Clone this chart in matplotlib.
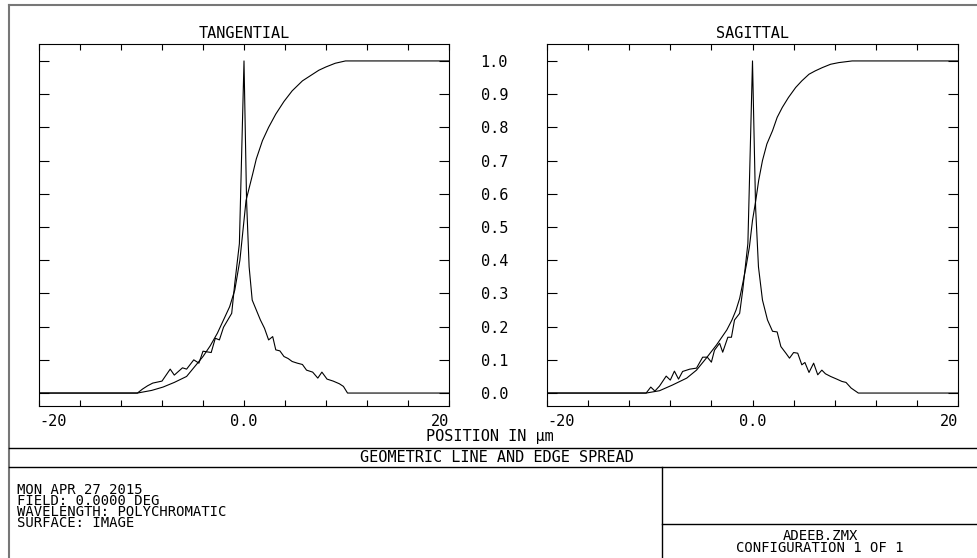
import numpy as np
import matplotlib
matplotlib.use("Agg")
import matplotlib.pyplot as plt
from matplotlib.lines import Line2D

plt.rcParams['font.family'] = ['DejaVu Sans Mono', 'DejaVu Sans']

W, H = 977, 558

# tangential line spread (peak-normalised) and edge spread, position in micrometres
tan_lsf_x = [-20, -10.4, -9.9, -9.4, -8.9, -8.0, -7.2, -6.8, -6.0, -5.6, -4.9, -4.4, -4.0,
             -3.2, -2.8, -2.4, -2.0, -1.2, -0.9, -0.45, 0.0, 0.25, 0.5, 0.8, 1.2, 1.6, 2.0,
             2.4, 2.8, 3.1, 3.5, 3.9, 4.3, 4.7, 5.2, 5.7, 6.1, 6.7, 7.2, 7.6, 8.1, 8.7, 9.3,
             9.7, 10.1, 20]
tan_lsf_y = [0, 0, 0.012, 0.022, 0.030, 0.036, 0.072, 0.054, 0.076, 0.072, 0.100, 0.090, 0.126,
             0.122, 0.165, 0.160, 0.198, 0.240, 0.330, 0.450, 1.000, 0.580, 0.380, 0.280, 0.250,
             0.220, 0.195, 0.160, 0.170, 0.130, 0.127, 0.110, 0.104, 0.095, 0.090, 0.086, 0.069,
             0.063, 0.045, 0.063, 0.042, 0.036, 0.028, 0.020, 0.0, 0]
tan_esf_x = [-20, -10.4, -9.0, -7.9, -6.8, -5.6, -4.0, -3.3, -2.6, -2.0, -1.4, -0.9, -0.4, 0.2,
             0.85, 1.2, 1.8, 2.4, 3.1, 3.9, 4.7, 5.7, 6.7, 7.3, 8.0, 8.9, 9.9, 20]
tan_esf_y = [0, 0, 0.008, 0.018, 0.032, 0.050, 0.110, 0.142, 0.180, 0.220, 0.260, 0.310, 0.400,
             0.580, 0.660, 0.705, 0.760, 0.800, 0.840, 0.878, 0.910, 0.940, 0.960, 0.972, 0.982,
             0.993, 1.0, 1.0]

# sagittal line spread and edge spread
sag_lsf_x = [-20, -10.35, -9.9, -9.5, -9.05, -8.4, -8.0, -7.6, -7.2, -6.8, -6.1, -5.45, -4.85,
             -4.4, -4.0, -3.7, -3.2, -2.9, -2.4, -2.05, -1.75, -1.25, -0.95, -0.45, 0.0, 0.3,
             0.58, 0.97, 1.46, 1.95, 2.4, 2.76, 3.25, 3.6, 4.0, 4.4, 4.8, 5.1, 5.5, 5.95, 6.35,
             6.75, 7.1, 7.6, 8.2, 8.7, 9.1, 9.6, 10.3, 20]
sag_lsf_y = [0, 0, 0.018, 0.006, 0.021, 0.051, 0.039, 0.066, 0.042, 0.065, 0.072, 0.075, 0.108,
             0.108, 0.093, 0.129, 0.150, 0.123, 0.168, 0.168, 0.220, 0.240, 0.310, 0.450, 1.000,
             0.560, 0.380, 0.280, 0.220, 0.186, 0.184, 0.140, 0.120, 0.105, 0.122, 0.120, 0.085,
             0.092, 0.062, 0.090, 0.055, 0.069, 0.058, 0.050, 0.042, 0.035, 0.032, 0.015, 0.0, 0]
sag_esf_x = [-20, -10.35, -9.05, -7.8, -6.4, -5.45, -4.5, -3.5, -2.5, -2.0, -1.6, -1.25, -0.95,
             -0.6, -0.3, 0.0, 0.32, 0.6, 0.97, 1.4, 1.95, 2.4, 2.9, 3.5, 4.2, 4.8, 5.5, 6.1,
             6.8, 7.6, 8.4, 9.7, 20]
sag_esf_y = [0, 0, 0.007, 0.024, 0.045, 0.069, 0.105, 0.145, 0.190, 0.220, 0.250, 0.285, 0.330,
             0.385, 0.440, 0.520, 0.580, 0.640, 0.700, 0.750, 0.790, 0.830, 0.860, 0.890, 0.920,
             0.940, 0.960, 0.970, 0.980, 0.990, 0.995, 1.0, 1.0]

x_ticks = np.arange(-20, 21, 4)
x_labels = ['-20', '', '', '', '', '0.0', '', '', '', '', '20']
y_ticks = np.round(np.arange(0, 1.01, 0.1), 1)
y_labels = [f'{v:.1f}' for v in y_ticks]

FS = 11


def fx(px):
    return px / W


def fy(py):
    return 1 - py / H


fig = plt.figure(figsize=(W / 100, H / 100), dpi=100)

ax_t = fig.add_axes([fx(39), fy(406), fx(449) - fx(39), fy(44) - fy(406)])
ax_s = fig.add_axes([fx(547), fy(406), fx(958) - fx(547), fy(44) - fy(406)])

panels = [
    (ax_t, 'TANGENTIAL', tan_lsf_x, tan_lsf_y, tan_esf_x, tan_esf_y),
    (ax_s, 'SAGITTAL', sag_lsf_x, sag_lsf_y, sag_esf_x, sag_esf_y),
]

for ax, title, lx, ly, ex, ey in panels:
    ax.plot(ex, ey, color='black', lw=0.8)
    ax.plot(lx, ly, color='black', lw=0.8)
    ax.set_xlim(-20, 20)
    ax.set_ylim(-0.039, 1.051)
    ax.set_xticks(x_ticks)
    ax.set_xticklabels(x_labels, fontsize=FS)
    ax.set_yticks(y_ticks)
    ax.tick_params(axis='x', direction='in', top=True, bottom=True, length=4.5, width=0.8, pad=6)
    ax.tick_params(axis='y', direction='in', left=True, right=True, length=7, width=0.8,
                   labelleft=False)
    tl = ax.get_xticklabels()
    tl[0].set_ha('left')
    tl[-1].set_ha('right')
    for sp in ax.spines.values():
        sp.set_linewidth(0.8)
    ax.set_title(title, fontsize=FS, pad=4)

# shared value scale sits between the two panels
ax_s.set_yticklabels(y_labels, fontsize=FS)
ax_s.tick_params(axis='y', labelleft=True, pad=38)
for lbl in ax_s.get_yticklabels():
    lbl.set_ha('center')

fig.text(fx(490), fy(436), 'POSITION IN μm', ha='center', va='center', fontsize=FS)
fig.text(fx(497), fy(458), 'GEOMETRIC LINE AND EDGE SPREAD', ha='center', va='center', fontsize=FS)

info = ['MON APR 27 2015', 'FIELD: 0.0000 DEG', 'WAVELENGTH: POLYCHROMATIC', 'SURFACE: IMAGE']
fig.text(fx(17), fy(483), '\n'.join(info), ha='left', va='top', fontsize=10,
         linespacing=0.72)

fig.text(fx(820), fy(529), 'ADEEB.ZMX\nCONFIGURATION 1 OF 1', ha='center', va='top',
         multialignment='center', fontsize=10, linespacing=0.78)

# report frame
frame = [
    ((9, 977), (5, 5), '#777777', 1.5),
    ((9, 9), (5, 558), '#777777', 1.5),
    ((9, 977), (448, 448), 'black', 1.0),
    ((9, 977), (467, 467), 'black', 1.0),
    ((662, 662), (467, 558), 'black', 1.0),
    ((662, 977), (524, 524), 'black', 1.0),
]
for xs, ys, col, lw in frame:
    fig.add_artist(Line2D([fx(x) for x in xs], [fy(y) for y in ys], color=col, lw=lw,
                          transform=fig.transFigure))

fig.savefig('out.png', dpi=100)
